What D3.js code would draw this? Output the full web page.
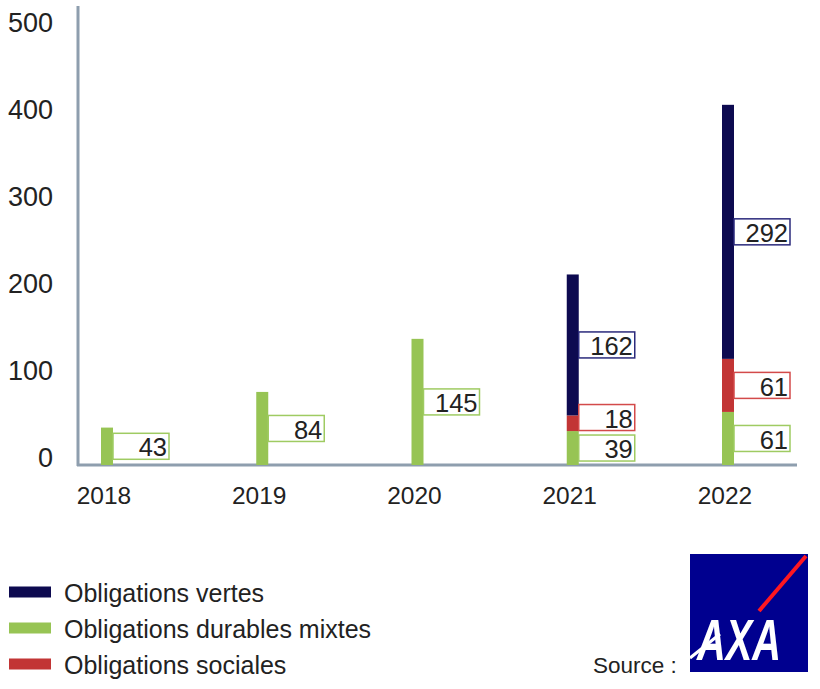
<!DOCTYPE html>
<html><head><meta charset="utf-8">
<script src="https://cdn.jsdelivr.net/npm/d3@7"></script>
<style>body{margin:0;background:#fff}svg{display:block;font-family:"Liberation Sans",Arial,Helvetica,sans-serif}</style>
</head><body><svg id="c" width="820" height="689"></svg>
<script>
const years = ["2018","2019","2020","2021","2022"];
const mixtes = [43,84,145,39,61];
const sociales = [0,0,0,18,61];
const vertes = [0,0,0,162,292];
const yTicks = [0,100,200,300,400,500];
const seriesNames = ["Obligations vertes","Obligations durables mixtes","Obligations sociales"];
const colors = {mixtes:"#97c454", sociales:"#c23535", vertes:"#0d0a50"};
const boxStroke = {mixtes:"#9fcb62", sociales:"#d34a4a", vertes:"#2b2a7c"};

const svg = d3.select("#c");
const y = d3.scaleLinear().domain([0,500]).range([465,30]);
const x = d3.scalePoint().domain(years).range([107,728]);

const rows = years.map((yr,i)=>({year:yr, mixtes:mixtes[i], sociales:sociales[i], vertes:vertes[i]}));
const keys = ["mixtes","sociales","vertes"];
const stack = d3.stack().keys(keys)(rows);

// axes lines
svg.append("line").attr("x1",78).attr("x2",78).attr("y1",6).attr("y2",466)
  .attr("stroke","#8e9eae").attr("stroke-width",3);
svg.append("line").attr("x1",77).attr("x2",797).attr("y1",465).attr("y2",465)
  .attr("stroke","#8e9eae").attr("stroke-width",3);

// y tick labels
svg.append("g").selectAll("text").data(yTicks).join("text")
  .attr("x",53).attr("y",d=>y(d)-8).attr("dy","0.36em")
  .attr("text-anchor","end").attr("font-size",27).attr("fill","#222")
  .text(d=>d);

// x labels
svg.append("g").selectAll("text").data(years).join("text")
  .attr("x",d=>x(d)-3).attr("y",504).attr("text-anchor","middle")
  .attr("font-size",24.5).attr("fill","#222").text(d=>d);

const bw = 12, bwid = 56, bh = 26, minGap = 30.5;
stack.forEach(layer=>{
  const key = layer.key;
  const g = svg.append("g");
  layer.forEach((d,i)=>{
    const v = d[1]-d[0];
    if(v<=0) return;
    const cx = x(years[i]);
    g.append("rect").attr("x",cx-bw/2).attr("y",y(d[1])).attr("width",bw)
      .attr("height",y(d[0])-y(d[1])).attr("fill",colors[key]);
  });
});
// label boxes, per year, bottom-up with collision avoidance
const lg = svg.append("g");
years.forEach((yr,i)=>{
  let prevY = null;
  stack.forEach(layer=>{
    const d = layer[i];
    const v = d[1]-d[0];
    if(v<=0) return;
    let my = (y(d[0])+y(d[1]))/2;
    if(prevY!==null && prevY-my < minGap) my = prevY - minGap;
    prevY = my;
    const bx = x(yr)+bw/2;
    lg.append("rect").attr("x",bx).attr("y",my-bh/2).attr("width",bwid).attr("height",bh)
      .attr("fill","#fff").attr("stroke",boxStroke[layer.key]).attr("stroke-width",1.5);
    lg.append("text").attr("x",bx+bwid-2).attr("y",my+1).attr("dy","0.36em")
      .attr("text-anchor","end").attr("font-size",25.5).attr("fill","#222").text(v);
  });
});

// legend
const legKeys = ["vertes","mixtes","sociales"];
const leg = svg.append("g");
legKeys.forEach((k,i)=>{
  const cy = 592 + i*36;
  leg.append("rect").attr("x",9).attr("y",cy-5.5).attr("width",42).attr("height",11).attr("fill",colors[k]);
  leg.append("text").attr("x",64).attr("y",cy+1).attr("dy","0.36em").attr("font-size",25)
    .attr("fill","#222").text(seriesNames[i]);
});

// source + logo
svg.append("text").attr("x",593).attr("y",673).attr("font-size",22.5).attr("fill","#222").text("Source :");
const logo = svg.append("g").attr("transform","translate(690,554)");
logo.append("rect").attr("width",118).attr("height",118).attr("fill","#00008f");
logo.append("line").attr("x1",116).attr("y1",2).attr("x2",69).attr("y2",57).attr("stroke","#ff1721").attr("stroke-width",4);
logo.append("line").attr("x1",0).attr("y1",104).attr("x2",30).attr("y2",80).attr("stroke","#fff").attr("stroke-width",3);
logo.append("text").attr("x",49).attr("y",106).attr("text-anchor","middle").attr("font-size",58)
  .attr("font-weight","bold").attr("font-style","italic").attr("fill","#fff")
  .attr("textLength",84).attr("lengthAdjust","spacingAndGlyphs").text("AXA");
</script></body></html>
